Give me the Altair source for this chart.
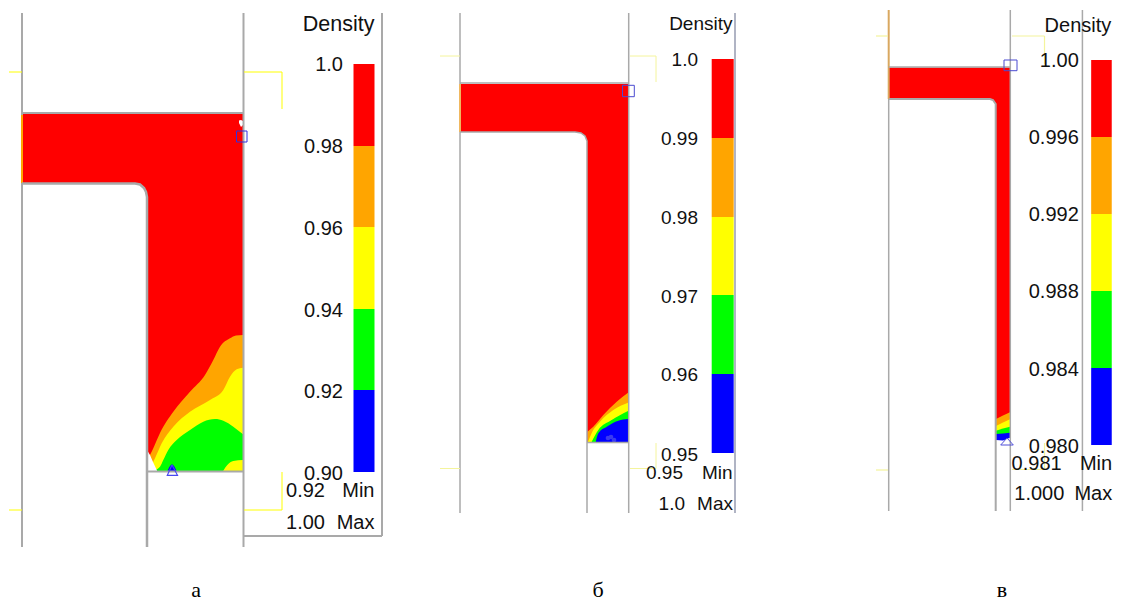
import altair as alt
import pandas as pd

RED, ORANGE, YELLOW, GREEN, BLUE = "#ff0000", "#ffa500", "#ffff00", "#00ff00", "#0000ff"
BAND_COLORS = [RED, ORANGE, YELLOW, GREEN, BLUE]
GRAY = "#a9a9a9"

# --- panel a contours
a_red_x = [22, 135, 140, 144, 146, 147, 147.01, 243]
a_red_top = [114, 114, 114, 114, 114, 114, 114, 114]
a_red_bottom = [183.5, 183.5, 184.5, 188, 192, 197, 471, 471]
a_orange_x = [150, 153.3, 160, 173.3, 190, 205, 213.3, 220, 230, 236, 243]
a_orange_top = [455, 448.3, 433, 411.7, 391.7, 375, 360, 346.7, 338.3, 335.5, 335]
a_yellow_x = [152.7, 155, 161.7, 173.3, 190, 210, 223.3, 230, 236.7, 243]
a_yellow_top = [463, 458.3, 443.3, 426.7, 411.7, 400, 390, 376.7, 369.3, 367.7]
a_green_x = [155, 160, 163.3, 168.3, 176.7, 190, 203.3, 215, 223.3, 233.3, 243]
a_green_top = [470, 466.7, 460, 450, 440, 430, 421.7, 419, 420.7, 426.7, 434.3]
a_blob_x = [223.3, 227.3, 233.3, 243]
a_blob_top = [470.7, 465, 461, 460]
a_blue_x = [167.5, 170, 172, 174, 176.5]
a_blue_top = [471, 466, 464.5, 466, 471]
a_gap_x = [147, 150, 153, 157]
a_gap_top = [450, 455, 462, 470.5]
a_speck_x = [239, 241, 243]
a_speck_top = [120.5, 120, 121]
a_speck_bottom = [123, 127, 125]

# --- panel b contours
b_red_x = [460, 575, 581, 585, 587, 587.01, 628]
b_red_top = [84, 84, 84, 84, 84, 84, 84]
b_red_bottom = [132, 132, 133, 136, 141, 442, 442]
b_orange_x = [587.5, 593.3, 603.3, 616.7, 628]
b_orange_top = [431.7, 426.7, 415, 401.7, 392.7]
b_yellow_x = [588, 591.7, 600, 613.3, 628]
b_yellow_top = [441.7, 433, 421.7, 410, 402.7]
b_green_x = [591.7, 598.3, 611.7, 628]
b_green_top = [441.7, 430, 420, 411]
b_blue_x = [595.7, 598.3, 606.7, 618.3, 628]
b_blue_top = [442, 433.3, 426.7, 420.7, 419]
b_smudge_x = [608, 611, 614]
b_smudge_y = [438, 437, 440]

# --- panel c contours
c_red_x = [889, 990, 993, 995.7, 995.71, 1010]
c_red_top = [67.5, 67.5, 67.5, 67.5, 67.5, 67.5]
c_red_bottom = [99, 99, 100, 104, 436, 436]
c_orange_x = [996, 1003, 1010]
c_orange_top = [419, 415.5, 412.3]
c_yellow_x = [996, 1003, 1010]
c_yellow_top = [426, 422.5, 419.3]
c_green_x = [996, 1003, 1010]
c_green_top = [430.7, 428.5, 426.7]
c_blue_x = [996, 1003, 1010]
c_blue_top = [434, 433.5, 432.7]
c_blue_bottom = [440, 440.5, 437.7]

# --- colour bars
a_bar_edges = [64, 146, 227, 309, 390, 472]
b_bar_edges = [59, 138, 217, 295, 374, 453]
c_bar_edges = [60, 137, 214, 291, 368, 445]
a_bar_x = [353.5, 374.5]
b_bar_x = [711.7, 733.7]
c_bar_x = [1096.7, 1119.5]

# --- tick labels
a_ticks = ["1.0", "0.98", "0.96", "0.94", "0.92", "0.90"]
a_tick_y = [65, 147, 229, 311, 392, 474]
b_ticks = ["1.0", "0.99", "0.98", "0.97", "0.96", "0.95"]
b_tick_y = [60, 139, 218, 297, 375, 455]
c_ticks = ["1.00", "0.996", "0.992", "0.988", "0.984", "0.980"]
c_tick_y = [61, 138, 215, 292, 370, 447]

# The page margin leaves 1106 x 595: the far right and bottom strips are eased in.
X = alt.X("x:Q", scale=alt.Scale(domain=[8, 1040, 1122], range=[0, 1032, 1106], nice=False, zero=False), axis=None)
Y = alt.Y("y:Q", scale=alt.Scale(domain=[8, 550, 611], range=[0, 542, 595], nice=False, zero=False), axis=None)


def area(xs, tops, bottoms, color, curve="linear"):
    if not isinstance(bottoms, list):
        bottoms = [bottoms] * len(xs)
    df = pd.DataFrame({"x": xs, "y": tops, "y2": bottoms})
    return alt.Chart(df).mark_area(color=color, opacity=1, interpolate=curve).encode(X, Y, y2="y2:Q")


def segs(rows, color, width):
    df = pd.DataFrame(rows, columns=["x", "y", "x2", "y2"])
    return alt.Chart(df).mark_rule(color=color, strokeWidth=width).encode(X, Y, x2="x2:Q", y2="y2:Q")


def path(points, color, width):
    df = pd.DataFrame(points, columns=["x", "y"]).assign(i=range(len(points)))
    return alt.Chart(df).mark_line(color=color, strokeWidth=width).encode(X, Y, order="i:Q")


def bar(xs, edges):
    df = pd.DataFrame({
        "x": [xs[0]] * 5, "x2": [xs[1]] * 5,
        "y": edges[:-1], "y2": edges[1:], "band": BAND_COLORS,
    })
    return alt.Chart(df).mark_rect().encode(
        X, Y, x2="x2:Q", y2="y2:Q", color=alt.Color("band:N", scale=None, legend=None)
    )


def text(xs, ys, labels, size, align="right", font="Liberation Sans", color="#111111"):
    df = pd.DataFrame({"x": xs, "y": ys, "t": labels})
    return alt.Chart(df).mark_text(
        align=align, baseline="middle", fontSize=size, font=font, color=color
    ).encode(X, Y, text="t:N")


def square(x0, x1, y0, y1, color):
    df = pd.DataFrame({"x": [x0], "x2": [x1], "y": [y0], "y2": [y1]})
    return alt.Chart(df).mark_rect(fillOpacity=0, stroke=color, strokeWidth=1).encode(
        X, Y, x2="x2:Q", y2="y2:Q"
    )


PALE = "#f4f49c"
SQ = "#4a4ad0"
M = "monotone"

layers = [
    # panel a
    area(a_red_x, a_red_top, a_red_bottom, RED),
    area(a_orange_x, a_orange_top, 471, ORANGE, M),
    area(a_yellow_x, a_yellow_top, 471, YELLOW, M),
    area(a_green_x, a_green_top, 471, GREEN, M),
    area(a_blob_x, a_blob_top, 471, YELLOW, M),
    area(a_blue_x, a_blue_top, 471, BLUE, M),
    area(a_gap_x, a_gap_top, 471, "#ffffff"),
    area(a_speck_x, a_speck_top, a_speck_bottom, "#ffffff"),
    segs([[22, 115, 22, 183]], ORANGE, 2),
    segs([[22, 13, 22, 115], [22, 183, 22, 547], [243.5, 13, 243.5, 547],
          [22, 113, 243.5, 113], [147, 471.5, 243.5, 471.5],
          [382, 13, 382, 536], [244, 536, 382, 536]], GRAY, 2),
    path([[22, 183.5], [135, 183.5], [140, 184.5], [144, 188], [146, 192], [147, 197], [147, 547]], GRAY, 2.5),
    segs([[9, 72, 22, 72], [244, 72, 282, 72], [282, 72, 282, 109],
          [9, 510, 22, 510], [244, 510, 282, 510], [282, 510, 282, 472]], YELLOW, 1),
    square(236.5, 247, 131, 142, "#3030e0"),
    path([[172, 465], [177.5, 475.3], [167.3, 475.3], [172, 465]], "#4848f0", 1.2),
    bar(a_bar_x, a_bar_edges),
    text([343] * 6, a_tick_y, a_ticks, 20),
    text([374.5], [25], ["Density"], 21.5),
    text([325, 325], [491, 523], ["0.92", "1.00"], 20),
    text([374.5, 374.5], [491, 523], ["Min", "Max"], 20),

    # panel b
    area(b_red_x, b_red_top, b_red_bottom, RED),
    area(b_orange_x, b_orange_top, 442, ORANGE, M),
    area(b_yellow_x, b_yellow_top, 442, YELLOW, M),
    area(b_green_x, b_green_top, 442, GREEN, M),
    area(b_blue_x, b_blue_top, 442, BLUE, M),
    alt.Chart(pd.DataFrame({"x": b_smudge_x, "y": b_smudge_y})).mark_circle(
        color="#3a3af0", size=22, opacity=1).encode(X, Y),
    segs([[460, 84, 460, 132]], "#f0b860", 2),
    segs([[460, 13, 460, 84], [460, 132, 460, 513], [628.7, 13, 628.7, 513],
          [460, 83, 628.7, 83], [587, 442.5, 628.7, 442.5]], GRAY, 1.5),
    path([[460, 132], [575, 132], [581, 133], [585, 136], [587, 141], [587, 513]], GRAY, 1.5),
    segs([[735, 13, 735, 513]], "#b0b4c4", 2),
    segs([[440, 56, 460, 56], [630, 56, 656, 56], [656, 56, 656, 82],
          [440, 468.5, 460, 468.5], [630, 468.5, 656, 468.5], [656, 468.5, 656, 443]], PALE, 1),
    square(622.5, 634.3, 85.3, 96.7, SQ),
    bar(b_bar_x, b_bar_edges),
    text([698] * 6, b_tick_y, b_ticks, 19),
    text([732.5], [24], ["Density"], 19),
    text([683, 685], [473, 504], ["0.95", "1.0"], 19),
    text([732.5, 733], [473, 504], ["Min", "Max"], 19),

    # panel c
    area(c_red_x, c_red_top, c_red_bottom, RED),
    area(c_orange_x, c_orange_top, 436, ORANGE),
    area(c_yellow_x, c_yellow_top, 436, YELLOW),
    area(c_green_x, c_green_top, 436, GREEN),
    area(c_blue_x, c_blue_top, c_blue_bottom, BLUE),
    segs([[888.7, 10, 888.7, 99]], "#d9a860", 2),
    segs([[888.7, 99, 888.7, 511], [1010.3, 10, 1010.3, 511], [888.7, 67, 1010.3, 67],
          [1087, 10, 1087, 511]], GRAY, 1.5),
    path([[889, 99], [990, 99], [993, 100], [995.7, 104], [995.7, 511]], GRAY, 2),
    segs([[876, 36, 888, 36], [1012, 36, 1045, 36], [1045, 36, 1045, 64],
          [876, 470, 888, 470], [1012, 469.5, 1045, 469.5], [1045, 469.5, 1045, 443]], PALE, 1.2),
    square(1004, 1017, 60, 70.7, SQ),
    path([[1007, 438], [1013.3, 445], [1000.7, 445], [1007, 438]], "#5050d8", 1),
    bar(c_bar_x, c_bar_edges),
    text([1083] * 6, c_tick_y, c_ticks, 20),
    text([1119], [26], ["Density"], 20),
    text([1064, 1067], [464, 494], ["0.981", "1.000"], 20),
    text([1120, 1120], [464, 494], ["Min", "Max"], 20),

    # captions
    text([196, 598, 1002], [596, 596, 596], ["а", "б", "в"], 22, align="center",
         font="Liberation Serif", color="#000000"),
]

chart = alt.layer(*layers).properties(
    width=1106, height=595, padding=0,
    autosize=alt.AutoSizeParams(type="none"), background="#ffffff",
).configure_view(stroke=None)

chart.save("out.html", embed_options={"renderer": "svg", "actions": False})
